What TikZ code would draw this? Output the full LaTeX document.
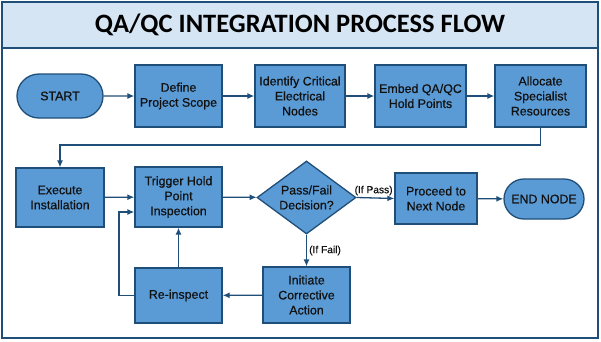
\documentclass[tikz,border=0pt]{standalone}
\usepackage{fontspec}
\setmainfont{Liberation Sans}
\newfontfamily\medfont{Liberation Sans}[FakeBold=0.6]
\newfontfamily\titlefont{Carlito}
\usetikzlibrary{arrows.meta,shapes.geometric,shapes.misc}
\definecolor{boxfill}{HTML}{5B9BD5}
\definecolor{boxline}{HTML}{1F4E79}
\definecolor{bandfill}{HTML}{D5E5F4}
\definecolor{txt}{HTML}{111111}
\begin{document}
\begin{tikzpicture}[x=1pt,y=-1pt,
  base/.style={draw=boxline, fill=boxfill, line width=1.3pt, align=center,
    font=\medfont\fontsize{12.4}{15}\selectfont, text=txt, inner sep=1pt},
  proc/.style={base, rectangle, minimum width=87pt, minimum height=62pt},
  term/.style={base, rounded rectangle, minimum width=88pt, minimum height=44pt},
  dec/.style={base, diamond, aspect=1.36, minimum width=99pt, minimum height=73pt, inner sep=0pt},
  arr/.style={draw=boxline, line width=1.3pt, -{Latex[length=7pt,width=6pt]}},
  lbl/.style={font=\medfont\fontsize{10.2}{12}\selectfont, text=txt, inner sep=2pt}]
\useasboundingbox (0,0) rectangle (601,341);
\fill[white] (0,0) rectangle (601,341);
\draw[boxline, line width=1.2pt, fill=white] (2,2) rectangle (598,338);
\draw[boxline, line width=1.2pt, fill=bandfill] (2,2) rectangle (598,48);
\node[font=\titlefont\bfseries\fontsize{26.5}{30}\selectfont, text=black] (title) at (300,25) {QA/QC INTEGRATION PROCESS FLOW};
% row 1
\node[term] (start) at (60,96) {START};
\node[proc] (scope) at (178.5,96) {Define\\Project Scope};
\node[proc, minimum width=90pt] (ident) at (300,96) {Identify Critical\\Electrical\\Nodes};
\node[proc, minimum width=91pt] (embed) at (420.5,96) {Embed QA/QC\\Hold Points};
\node[proc, minimum width=91pt] (alloc) at (540.5,96) {Allocate\\Specialist\\Resources};
% row 2
\node[proc, minimum width=88pt, minimum height=59pt] (exec) at (60,197.5) {Execute\\Installation};
\node[proc, minimum height=60pt] (trig) at (178.5,197) {Trigger Hold\\Point\\Inspection};
\node[dec] (dec) at (306.5,197.5) {Pass/Fail\\Decision?};
\node[proc, minimum width=82pt, minimum height=51pt] (next) at (436,198.5) {Proceed to\\Next Node};
\node[term, minimum width=82pt, minimum height=40pt] (endn) at (544,199) {END NODE};
% row 3
\node[proc, minimum height=56pt] (init) at (306.5,295) {Initiate\\Corrective\\Action};
\node[proc, minimum height=55pt] (reins) at (178.5,295.5) {Re-inspect};
% connectors
\coordinate (c2) at (60,145);
\coordinate (lp) at (119,212);
\draw[arr] (start) -- (scope);
\draw[arr] (scope) -- (ident);
\draw[arr] (ident) -- (embed);
\draw[arr] (embed) -- (alloc);
\draw[arr] (alloc.south) |- (c2) -- (exec.north);
\draw[arr] (exec) -- (trig);
\draw[arr] (trig) -- (dec);
\draw[arr] (dec.east) -- node[lbl, above, pos=0.45] {(If Pass)} (next.west);
\draw[arr] (next) -- (endn);
\draw[arr] (dec.south) -- node[lbl, right] {(If Fail)} (init.north);
\draw[arr] (init) -- (reins);
\draw[arr] (reins) -- (trig);
\draw[arr] (reins.west) -| (lp) -- (trig.west |- lp);
\end{tikzpicture}
\end{document}
